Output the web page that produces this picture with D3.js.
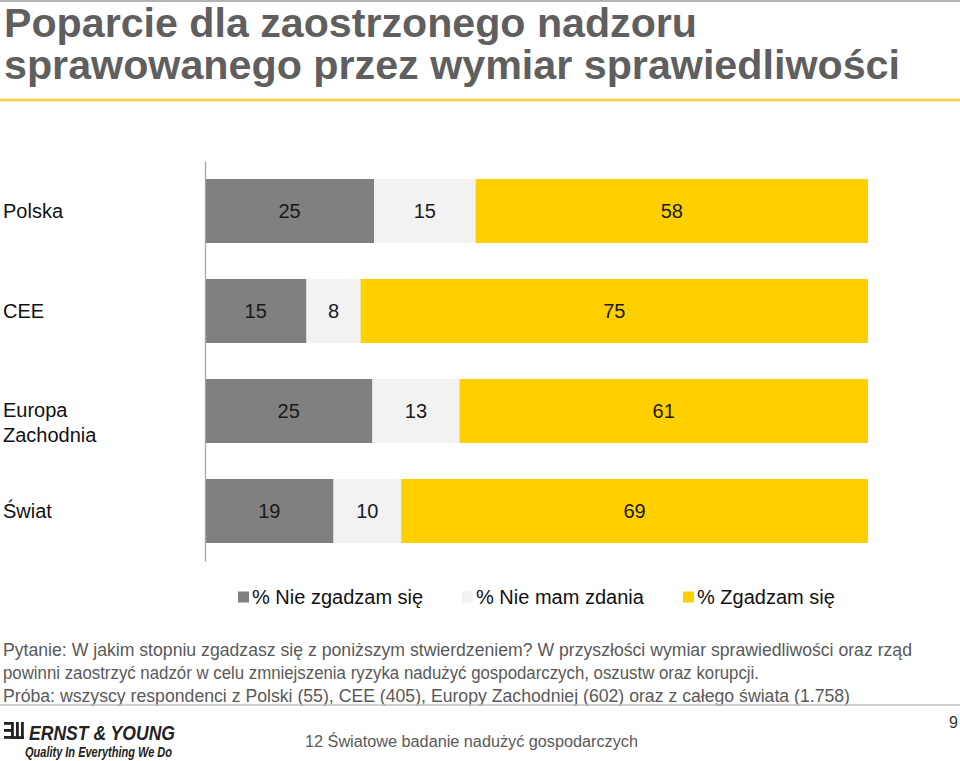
<!DOCTYPE html>
<html><head><meta charset="utf-8">
<script src="https://cdnjs.cloudflare.com/ajax/libs/d3/7.8.5/d3.min.js"></script>
<style>
html,body{margin:0;padding:0;background:#fff;}
svg{display:block;font-family:"Liberation Sans",Arial,sans-serif;}
</style></head>
<body>
<svg id="chart" width="960" height="761"></svg>
<script>
const categories = ["Polska", "CEE", "Europa\nZachodnia", "Świat"];
const seriesNames = ["% Nie zgadzam się", "% Nie mam zdania", "% Zgadzam się"];
const disagree = [25, 15, 25, 19];
const noOpinion = [15, 8, 13, 10];
const agree = [58, 75, 61, 69];
const colors = ["#808080", "#f2f2f2", "#ffcf00"];

const titleLines = ["Poparcie dla zaostrzonego nadzoru", "sprawowanego przez wymiar sprawiedliwości"];
const noteLines = [
  "Pytanie: W jakim stopniu zgadzasz się z poniższym stwierdzeniem? W przyszłości wymiar sprawiedliwości oraz rząd",
  "powinni zaostrzyć nadzór w celu zmniejszenia ryzyka nadużyć gospodarczych, oszustw oraz korupcji.",
  "Próba: wszyscy respondenci z Polski (55), CEE (405), Europy Zachodniej (602) oraz z całego świata (1.758)"
];

const svg = d3.select("#chart");

// top thin line
svg.append("line").attr("x1",0).attr("x2",960).attr("y1",1).attr("y2",1).attr("stroke","#9a9a9a").attr("stroke-width",1.5);

// title
const tW = [693, 896];
svg.selectAll("text.title").data(titleLines).join("text")
  .attr("class","title")
  .attr("x",4).attr("y",(d,i)=>37+i*42)
  .attr("font-size",40).attr("font-weight","bold").attr("fill","#5f5f5f")
  .text(d=>d)
  .each(function(d,i){ this.setAttribute("textLength", tW[i]); this.setAttribute("lengthAdjust","spacingAndGlyphs"); });

// yellow rule
svg.append("rect").attr("x",0).attr("y",98.5).attr("width",960).attr("height",3).attr("fill","#f4d34a");

// stacked data (normalized to 100%)
const rows = categories.map((c,i)=>{
  const vals=[disagree[i], noOpinion[i], agree[i]];
  const tot=d3.sum(vals);
  let acc=0;
  return {cat:c, segs: vals.map((v,k)=>{const s={k, v, x0:acc/tot, x1:(acc+v)/tot}; acc+=v; return s;})};
});

const x = d3.scaleLinear().domain([0,1]).range([205, 868]);
const y = d3.scaleBand().domain(categories).range([161, 561]).paddingInner(0.36).paddingOuter(0.18);

const g = svg.append("g");
const rowG = g.selectAll("g.row").data(rows).join("g").attr("class","row");
rowG.selectAll("rect").data(d=>d.segs.map(s=>({...s, cat:d.cat}))).join("rect")
  .attr("x",d=>x(d.x0)).attr("width",d=>x(d.x1)-x(d.x0))
  .attr("y",d=>y(d.cat)).attr("height",y.bandwidth())
  .attr("fill",d=>colors[d.k]);
rowG.selectAll("text.val").data(d=>d.segs.map(s=>({...s, cat:d.cat}))).join("text")
  .attr("class","val")
  .attr("x",d=>(x(d.x0)+x(d.x1))/2).attr("y",d=>y(d.cat)+y.bandwidth()/2)
  .attr("dy","0.36em").attr("text-anchor","middle")
  .attr("font-size",20).attr("fill","#1a1a1a")
  .text(d=>d.v);

// vertical axis
const yAxis = d3.axisLeft(y).tickSize(0).tickFormat("");
const ax = svg.append("g").attr("transform","translate(205,0)").call(yAxis);
ax.select(".domain").attr("stroke","#a6a6a6").attr("stroke-width",1.3);

// category labels
svg.selectAll("text.cat").data(categories).join("text")
  .attr("class","cat")
  .attr("font-size",20).attr("fill","#111")
  .each(function(d){
    const lines=d.split("\n");
    const cy=y(d)+y.bandwidth()/2;
    const t=d3.select(this);
    lines.forEach((l,i)=>{
      t.append("tspan").attr("x",3).attr("y",cy - (lines.length>1?1:0) + i*25).attr("dy","0.36em").text(l);
    });
  });

// legend
const legX = [238, 462, 683];
const leg = svg.selectAll("g.leg").data(seriesNames).join("g").attr("class","leg")
  .attr("transform",(d,i)=>`translate(${legX[i]},597)`);
leg.append("rect").attr("x",0).attr("y",-5.5).attr("width",11).attr("height",11).attr("fill",(d,i)=>colors[i]);
leg.append("text").attr("x",14).attr("dy","0.36em").attr("font-size",20).attr("fill","#111").text(d=>d);

// notes
const nW = [909, 756, 847];
svg.selectAll("text.note").data(noteLines).join("text")
  .attr("class","note").attr("x",3).attr("y",(d,i)=>656+i*23)
  .attr("font-size",17.5).attr("fill","#595959").text(d=>d)
  .each(function(d,i){ this.setAttribute("textLength", nW[i]); this.setAttribute("lengthAdjust","spacingAndGlyphs"); });

svg.append("line").attr("x1",0).attr("x2",960).attr("y1",705).attr("y2",705).attr("stroke","#bfbfbf").attr("stroke-width",1.5);

// logo
const logo = svg.append("g").attr("fill","#222");
[0,1,2].forEach(i=>{
  logo.append("rect").attr("x",4).attr("y",722+i*7).attr("width",9).attr("height",2.8);
});
logo.append("rect").attr("x",11).attr("y",722).attr("width",2.8).attr("height",16.8);
logo.append("rect").attr("x",16).attr("y",722).attr("width",2.8).attr("height",17);
logo.append("rect").attr("x",21).attr("y",722).attr("width",2.8).attr("height",17);
logo.append("rect").attr("x",13).attr("y",736.2).attr("width",10.8).attr("height",2.8);
logo.append("text").attr("x",29).attr("y",740).attr("font-style","italic").attr("font-weight","bold")
  .attr("font-size",20).attr("textLength",146).attr("lengthAdjust","spacingAndGlyphs").text("ERNST & YOUNG");
logo.append("text").attr("x",25).attr("y",757).attr("font-style","italic")
  .attr("font-weight","bold").attr("font-size",14).attr("textLength",147).attr("lengthAdjust","spacingAndGlyphs").text("Quality In Everything We Do");

svg.append("text").attr("x",305).attr("y",747).attr("font-size",16).attr("fill","#595959")
  .attr("textLength",333).attr("lengthAdjust","spacingAndGlyphs").text("12 Światowe badanie nadużyć gospodarczych");
svg.append("text").attr("x",958).attr("y",728).attr("text-anchor","end").attr("font-size",16).attr("fill","#333").text("9");
</script>
</body></html>
